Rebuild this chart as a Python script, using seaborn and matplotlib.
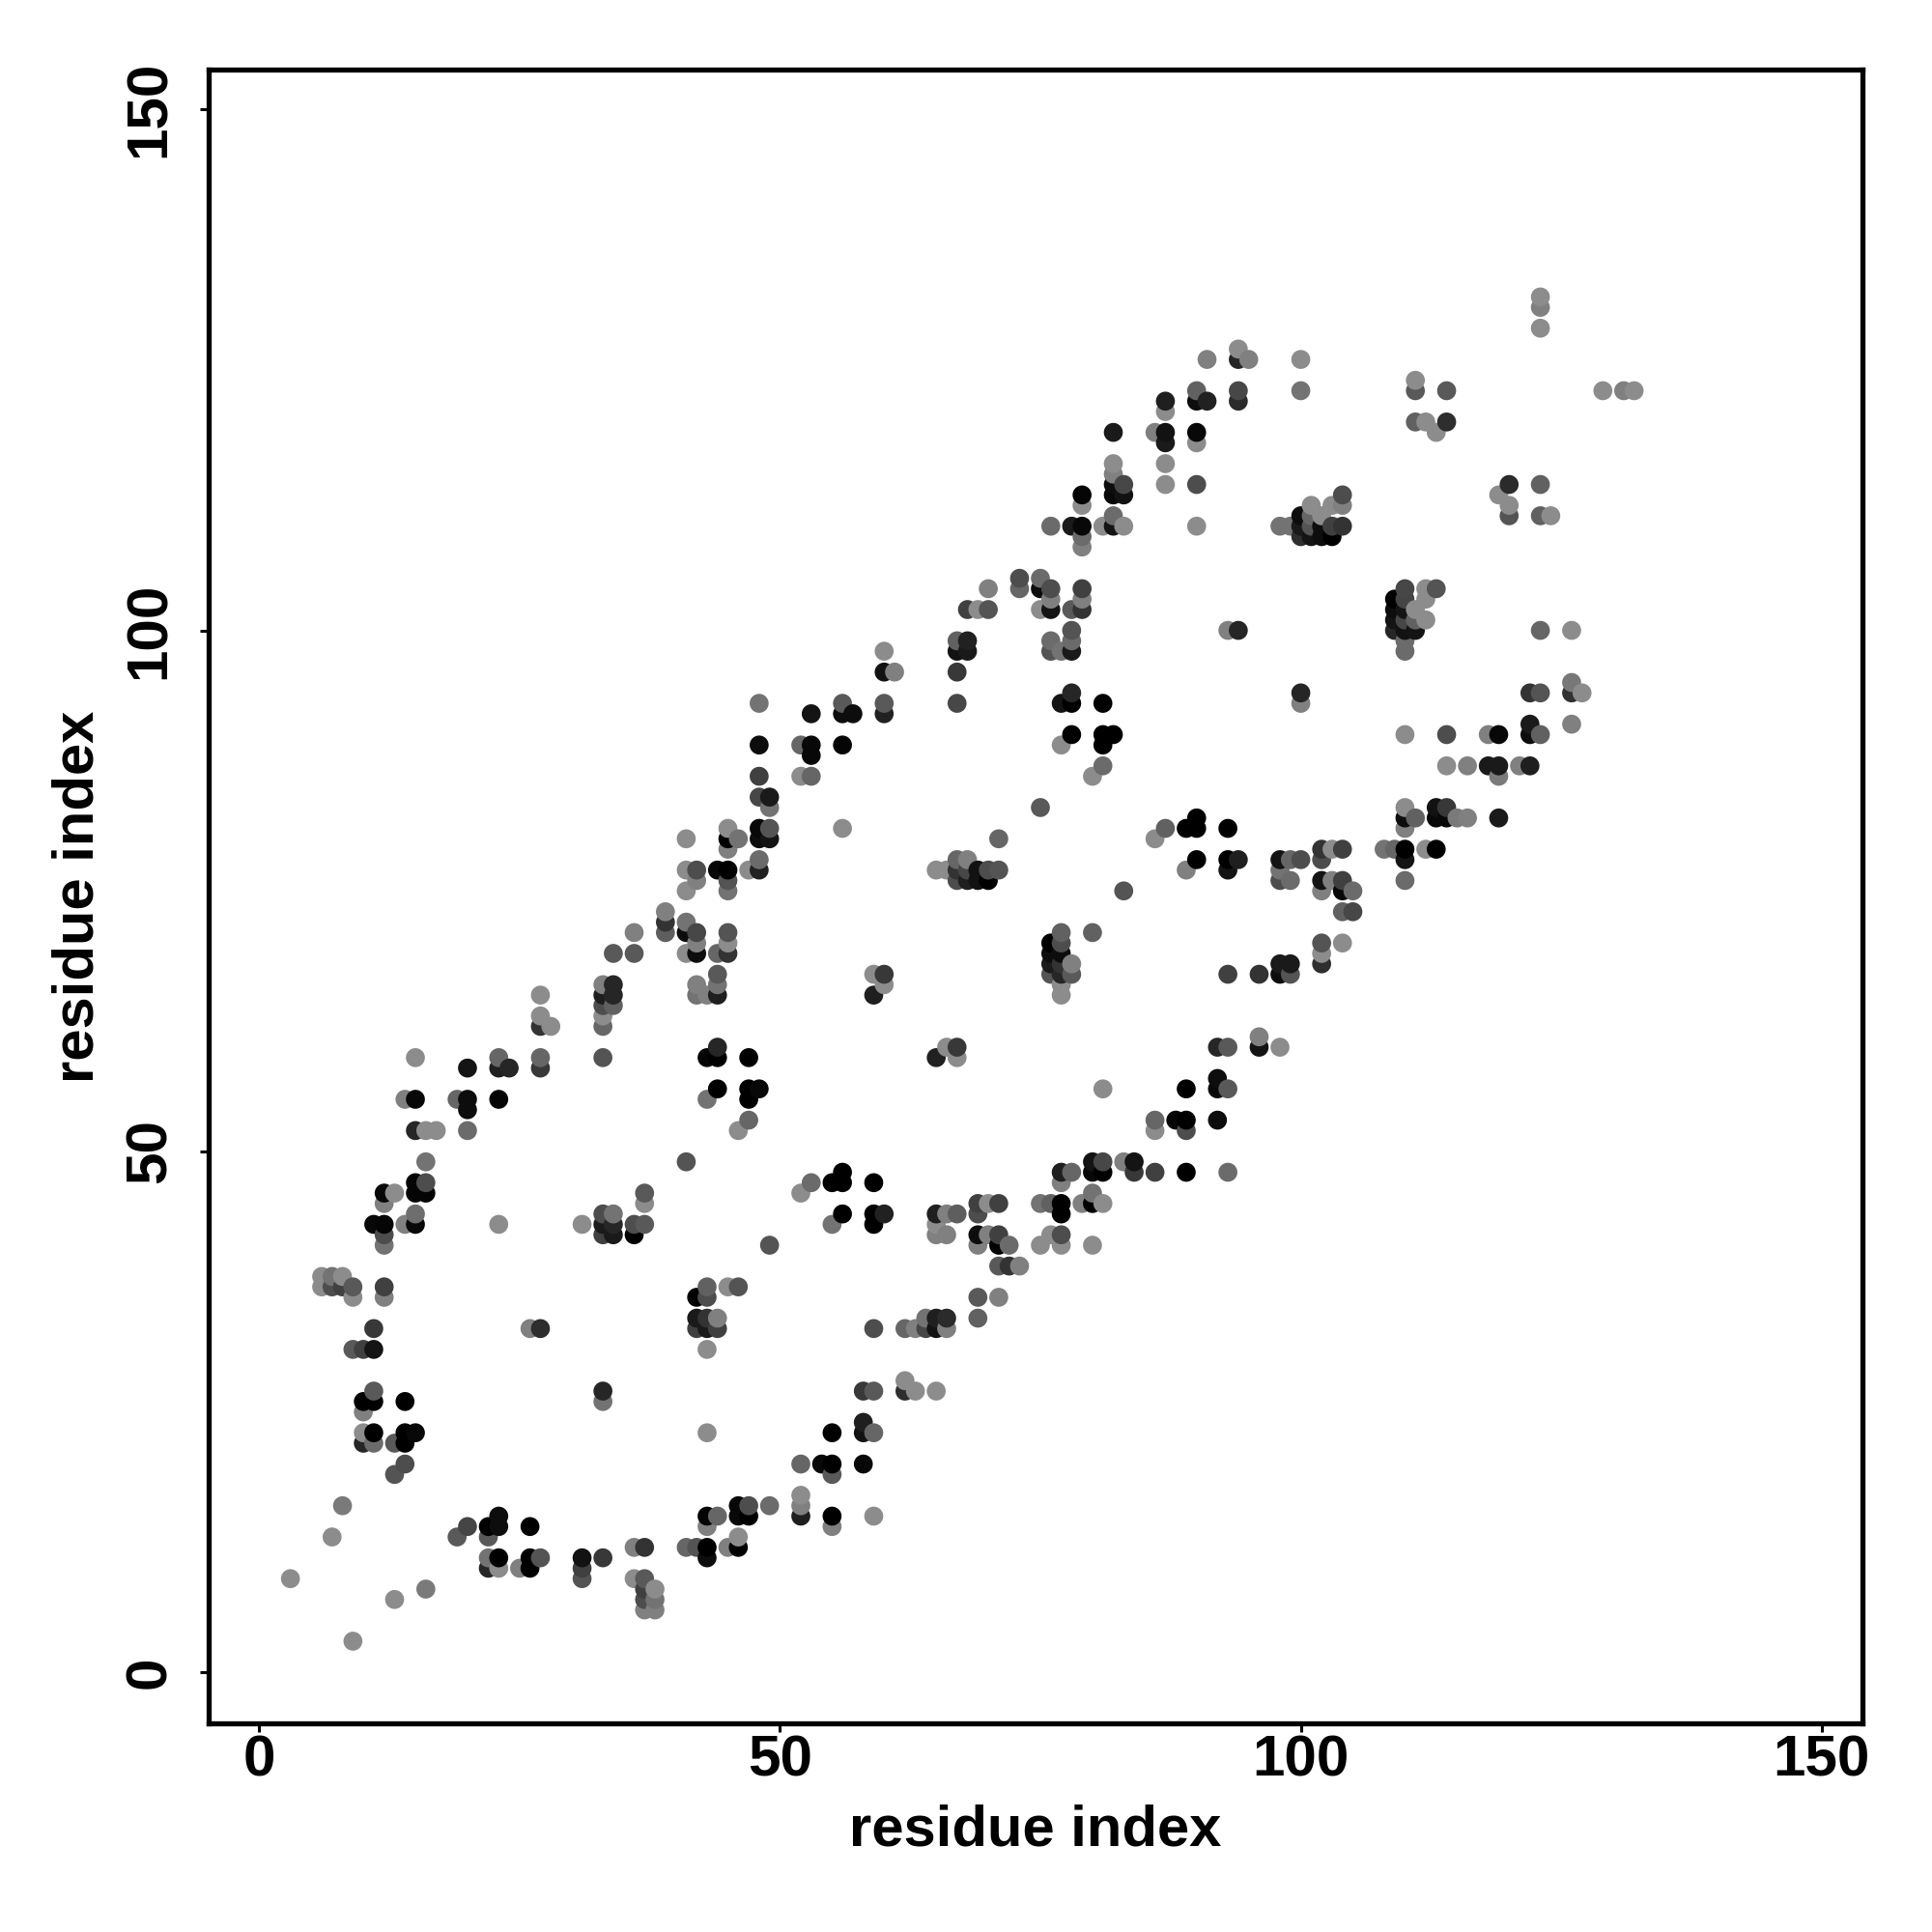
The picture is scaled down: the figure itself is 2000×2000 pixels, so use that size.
import matplotlib
matplotlib.use("Agg")
import matplotlib.pyplot as plt
import pandas as pd
import seaborn as sns

residue_x = [3, 6, 7, 8, 9, 10, 11, 12, 13, 14, 15, 16, 17, 19, 20, 22, 23, 24, 25, 26, 27, 28, 31, 33, 34, 36, 37, 38, 39, 41,
             42, 43, 44, 45, 46, 47, 48, 49, 52, 53, 54, 55, 56, 57, 58, 59, 60, 61, 62, 63, 64, 65, 66, 67, 68, 69, 70, 71, 72, 73,
             75, 76, 77, 78, 79, 80, 81, 82, 83, 84, 86, 87, 88, 89, 90, 91, 92, 93, 94, 95, 96, 98, 99, 100, 101, 102, 103, 104, 105, 108,
             109, 110, 111, 112, 113, 114, 115, 116, 118, 119, 120, 121, 122, 123, 124, 126, 127, 129, 131, 132]

partner_y = [
    [9], [38, 37], [38, 37, 13], [38, 37, 16], [37, 36, 31, 3],
    [31, 26, 25, 23, 22], [43, 33, 31, 27, 26, 23, 22], [46, 45, 43, 42, 41, 37, 36], [46, 22, 19, 7], [55, 43, 26, 23, 22, 20],
    [59, 55, 52, 47, 46, 44, 43, 23], [52, 49, 47, 46, 8], [52], [55, 13], [58, 55, 54, 52, 14],
    [14, 13, 11, 10], [59, 58, 55, 43, 15, 14, 11, 10], [58], [10], [33, 14, 11, 10],
    [65, 63, 62, 59, 58, 33, 11], [62], [43, 11, 10, 9], [66, 65, 64, 63, 62, 59, 44, 43, 42, 27, 26, 11], [69, 66, 65, 64, 44, 43, 42],
    [71, 69, 43, 42, 12, 9], [46, 45, 43, 12, 9, 8, 7, 6], [8, 7, 6], [73, 72, 71], [80, 77, 75, 72, 71, 69, 49, 12],
    [77, 76, 71, 70, 69, 66, 65, 36, 34, 33, 12], [65, 59, 55, 37, 36, 34, 33, 31, 23, 15, 14, 12, 11],
    [77, 69, 67, 66, 65, 60, 59, 56, 34, 33, 15], [81, 80, 79, 77, 76, 75, 71, 70, 69, 37, 12], [80, 52, 37, 16, 15, 13, 12],
    [77, 59, 56, 55, 53, 16, 15], [93, 89, 86, 84, 81, 80, 78, 77, 56], [84, 83, 81, 80, 41, 16], [89, 86, 46, 20, 17, 16, 15], [92, 89, 88, 86, 47],
    [20], [47, 43, 23, 20, 19, 15, 14], [93, 92, 89, 81, 48, 47, 44], [92], [27, 24, 23, 20],
    [67, 65, 47, 44, 43, 33, 27, 23, 15], [98, 96, 93, 92, 67, 66, 44], [96], [33, 28, 27], [33, 27],
    [34, 33], [77, 59, 44, 43, 42, 34, 33, 27], [77, 60, 44, 42, 34, 33], [99, 98, 96, 93, 78, 77, 76, 60, 59, 44], [102, 99, 98, 78, 77, 76],
    [102, 77, 76, 45, 44, 42, 41, 36, 34], [104, 102, 77, 76, 45, 42], [80, 77, 45, 42, 41, 39, 36], [41, 39], [105, 104, 39],
    [105, 104, 102, 83, 45, 41], [110, 104, 103, 102, 99, 98, 70, 69, 68, 67, 45, 42],
    [98, 93, 89, 71, 70, 69, 68, 67, 66, 65, 48, 47, 45, 44, 42, 41], [110, 102, 100, 99, 98, 94, 93, 90, 68, 67, 48],
    [113, 112, 110, 109, 108, 104, 103, 102, 45], [86, 71, 49, 48, 46, 45, 41], [110, 93, 90, 89, 87, 56, 49, 48, 45],
    [119, 116, 115, 114, 113, 111, 110, 90], [114, 113, 110, 75, 49], [49, 48],
    [119, 80, 53, 52, 48], [122, 121, 119, 118, 116, 114, 81], [53], [81, 77, 56, 53, 52, 48], [123, 122, 119, 118, 114, 110, 82, 81, 78],
    [126, 122], [60, 57, 56, 53], [100, 81, 78, 77, 67, 60, 56, 48], [127, 126, 123, 122, 100, 78], [126],
    [67, 61, 60], [110, 78, 77, 76, 68, 67, 60], [110, 78, 76, 68, 67], [126, 123, 111, 110, 109, 94, 93, 78], [112, 111, 110, 109],
    [111, 110, 109, 79, 78, 76, 75, 70, 69, 68], [112, 110, 109, 79, 76], [113, 112, 110, 79, 76, 75, 73, 70], [75, 73], [79],
    [103, 102, 101, 100, 79], [104, 103, 102, 101, 100, 99, 98, 90, 83, 82, 81, 79, 78, 76], [124, 123, 120, 102, 101, 100, 82],
    [120, 104, 103, 101, 79], [119, 104, 83, 82, 79], [123, 120, 90, 87, 83, 82], [82], [87, 82], [90, 87], [113, 90, 87, 86, 82],
    [114, 112, 111], [87], [94, 91, 90, 87], [132, 131, 129, 114, 111, 100, 94, 90], [111], [100, 95, 94, 91], [94], [123], [123], [123],
]

partner_shade = [
    [.55], [.55, .55], [.45, .3, .55], [.55, .25, .48], [.35, .55, .35, .55],
    [.25, 0, .5, .55, .15], [.03, .22, .08, .35, 0, 0, .42], [.03, .5, .02, .3, .45, .25, .5], [.55, .35, .33, .55], [.5, .5, 0, 0, 0, .3],
    [.55, .03, .15, .02, .02, .43, .03, .03], [.55, .45, .3, .02, .48], [.55], [.4, .35], [.08, .05, .05, .42, .27],
    [0, .35, .45, .15], [.4, .12, .02, .55, .05, .05, 0, .55], [.15], [.5], [.5, 0, 0, 0],
    [.55, .55, .2, .4, .22, .18, .33], [.55], [.55, .07, .25, .33], [.5, .12, .3, .55, .4, .33, .3, .1, .25, .15, .45, .22], [.35, .15, .15, .38, .45, .15, .1],
    [.5, .35, .3, 0, .5, .55], [.35, .55, .35, .2, .35, .25, .3, .5], [.55, .45, .5], [.5, .2, .37], [.55, .55, .55, .45, .05, .55, .33, .4],
    [.3, .5, .28, .5, .05, .5, .45, 0, .1, .25, .33], [.5, .02, .45, .38, .3, .2, .1, .55, .55, .02, .5, 0, .05],
    [.03, .4, .35, .45, .12, .15, 0, 0, .5, .25, .4], [.55, 0, .5, 0, .33, .45, .33, .55, .2, .55, .5], [.45, .55, .33, .03, .03, .55, 0],
    [.55, 0, 0, 0, .4, .3, 0], [.45, .05, .25, .28, .03, .05, .42, .13, .03], [.1, .45, .33, .08, .33, .42], [.4, .55, .55, .4, .55, .5, .12], [.08, .03, .03, .4, .42],
    [.03], [0, .45, 0, 0, .35, 0, .5], [.35, .05, .02, .55, 0, 0, 0], [.05], [.22, .12, .07, .03],
    [.55, .12, 0, 0, 0, .3, .35, .4, .55], [.55, .07, .35, .13, .22, .55, .13], [.5], [.4, .55, .18], [.5, .55],
    [.45, .28], [.55, .13, .12, .55, .5, .12, .08, .55], [.55, .55, .5, .5, .17, .5], [.38, .07, .22, .28, .4, .2, .3, .22, .55, .37], [.25, .13, .1, .5, .28, .12],
    [.55, .07, .07, .25, .3, .05, .5, .35, .38], [.5, .33, .3, 0, .55, .5], [.4, .33, .25, .25, 0, .35, .5], [.42, .2], [.3, .4, .5],
    [.42, .05, .55, .35, .45, .55], [.42, .3, .5, .08, .42, .33, 0, .05, .1, .33, .38, .55],
    [.45, .08, .55, .38, .3, .05, .2, .15, .55, .55, .12, .5, 0, 0, .3, .55], [.1, .35, .33, .42, .1, .15, 0, 0, .5, .35, .4],
    [.02, .55, .03, .42, .5, .25, .5, .2, .5], [.55, .38, .08, .03, .45, 0, .55], [.55, 0, 0, 0, .42, .55, .28, 0, .55],
    [.1, .55, .5, .05, .03, .42, .08, 0], [.28, .07, .55, .33, .5], [.08, .22],
    [.5, .55, .4, .55, .25], [.12, .55, .07, .1, .55, .55, .38], [.02], [0, .5, 0, 0, .3, 0], [.38, .05, .03, .55, .3, .55, 0, 0, 0],
    [.5, .13], [.15, .05, .03, .05], [.5, 0, 0, .08, .25, .35, .35, .42], [.55, .15, .28, .17, .15, .12], [.5],
    [.2, .5, .08], [.45, .08, .45, .3, .1, .05, .55], [.45, .4, .42, .1, .33], [.55, .45, .05, .1, .18, .15, .5, .3], [.55, .4, .33, .08],
    [.55, .05, .05, .2, .3, .08, .5, .33, .55, .18], [.55, .25, 0, .55, .5], [.3, .5, .2, .25, .25, .03, .38, .55], [.42, .28], [.45],
    [0, .05, .08, .15, .4], [.28, .27, .08, .28, .07, .42, .42, .55, .55, .05, .5, 0, .08, .42], [.55, .35, .38, .55, .38, .08, .38],
    [.55, .55, .55, .55, .55], [.55, .33, .07, .03, 0], [.35, .18, .3, .55, .22, .03], [.48], [.5, .5], [.5, .1], [.55, .03, .1, .48, .1],
    [.17, .55, .33], [.5], [.2, .1, .05, .12], [.55, .5, .55, .38, .38, .4, .33, .38], [.55], [.55, .47, .2, .5], [.55], [.55], [.5], [.55],
]

tick_values = [0, 50, 100, 150]
axis_title = "residue index"

frame = pd.DataFrame({"residue": residue_x, "partner": partner_y, "shade": partner_shade})
frame = frame.explode(["partner", "shade"]).astype({"partner": int, "shade": float})
frame = frame.sort_values(["residue", "partner"], ignore_index=True)
palette = {s: str(s) for s in frame["shade"].unique()}

sns.set_theme(style="white")
plt.rcParams["font.family"] = ["Liberation Sans", "DejaVu Sans"]

fig = plt.figure(figsize=(10, 10), dpi=200)
ax = fig.add_axes([216 / 2000, 1 - 1784 / 2000, (1928 - 216) / 2000, (1784 - 72) / 2000])
sns.scatterplot(data=frame, x="residue", y="partner", hue="shade", palette=palette,
                s=50, linewidth=0, legend=False, ax=ax)
ax.set_xlim(-4.85, 153.92)
ax.set_ylim(-4.885, 153.82)
ax.set_xticks(tick_values)
ax.set_yticks(tick_values)
ax.tick_params(axis="both", which="major", direction="out", length=3.2, width=1.1, color="black",
               labelsize=21.7, labelcolor="black", left=True, bottom=True)
ax.tick_params(axis="x", pad=0.9)
ax.tick_params(axis="y", pad=8.6)
for lab in ax.get_xticklabels():
    lab.set_fontweight("bold")
for lab in ax.get_yticklabels():
    lab.set_fontweight("bold")
    lab.set_rotation(90)
    lab.set_va("center")
ax.set_xlabel(axis_title, fontsize=21.5, fontweight="bold", color="black")
ax.set_ylabel(axis_title, fontsize=21.5, fontweight="bold", color="black", va="center")
ax.xaxis.label.set_va("center")
ax.xaxis.set_label_coords(0.5, -0.0646)
ax.yaxis.set_label_coords(-0.0786, 0.5)
for spine in ax.spines.values():
    spine.set_visible(True)
    spine.set_color("black")
    spine.set_linewidth(1.9)
fig.savefig("out.png", dpi=200, facecolor="white")
